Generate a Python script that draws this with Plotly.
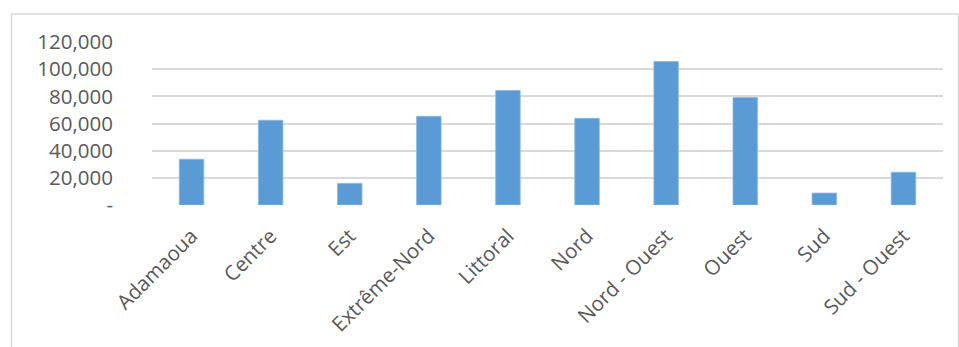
import plotly.graph_objects as go

regions = ["Adamaoua", "Centre", "Est", "Extrême-Nord", "Littoral", "Nord",
           "Nord - Ouest", "Ouest", "Sud", "Sud - Ouest"]
values = [33700, 62400, 15900, 65300, 84300, 63800, 105600, 79100, 8800, 24100]
y_ticks = [0, 20000, 40000, 60000, 80000, 100000, 120000]
y_tick_labels = ["-", "20,000", "40,000", "60,000", "80,000", "100,000", "120,000"]

W, H = 959, 347
L, R, T, B = 152, 16, 42, 142

fig = go.Figure(go.Bar(
    x=regions, y=values,
    marker=dict(color="#5b9bd5", line=dict(color="#8cb8e3", width=0.8)),
    width=0.31,
))

font = dict(family="Open Sans, Liberation Sans, sans-serif", size=20.5, color="#595959")

pw = W - L - R
ph = H - T - B
def px(x):
    return (x - L) / pw
def py(y):
    return (H - B - y) / ph

fig.update_layout(
    width=W, height=H,
    margin=dict(l=L, r=R, t=T, b=B, pad=0),
    plot_bgcolor="white", paper_bgcolor="white",
    showlegend=False,
    font=font,
    xaxis=dict(tickangle=-45, showgrid=False, showline=False, ticks="",
               ticklabelstandoff=14, tickfont=font, automargin=False),
    yaxis=dict(range=[0, 120000], tickvals=y_ticks, ticktext=y_tick_labels,
               showgrid=True, gridcolor="#d9d9d9", gridwidth=1.5,
               zeroline=False, showline=False, ticks="",
               ticklabelstandoff=38, tickfont=font, automargin=False),
    shapes=[dict(type="rect", xref="paper", yref="paper",
                 x0=px(11.5), x1=px(958.5), y0=py(360), y1=py(14),
                 line=dict(color="#d9d9d9", width=1.5), layer="below")],
)

fig.write_html("out.html")
